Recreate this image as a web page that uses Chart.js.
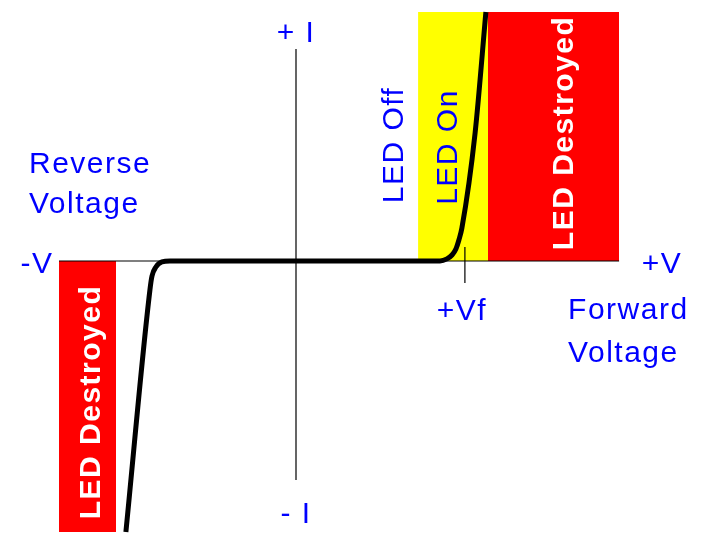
<!DOCTYPE html>
<html>
<head>
<meta charset="utf-8">
<script src="https://cdn.jsdelivr.net/npm/chart.js@4/dist/chart.umd.min.js"></script>
<style>
  html, body { margin: 0; padding: 0; background: #fff; }
  #wrap { width: 711px; height: 541px; }
</style>
</head>
<body>
<div id="wrap"><canvas id="ledChart" width="711" height="541"></canvas></div>
<script>
// axis ranges (voltage / current in arbitrary units)
const xRange = [-9.8667, 13.8333];
const yRange = [-9.3333, 8.7];

// I-V curve of the LED
const curveV = [-5.67, -4.87, -4.8, -4.67, -4.47, -4.2, 4.8, 5.03, 5.2, 5.33, 5.43, 5.53, 5.97, 6.33];
const curveI = [-9.03, -0.97, -0.5, -0.2, -0.03, 0, 0, 0.07, 0.2, 0.4, 0.7, 1.1, 4.27, 8.3];

// axes drawn as lines
const vAxisV = [-7.9, 10.77];
const iAxisI = [7.07, -7.3];
const vfV = 5.63;
const vfTickI = [0.47, -0.73];

// zones [vStart, vEnd, iEdge]
const zoneOn = [4.07, 6.4, 8.3];
const zoneBurnFwd = [6.4, 10.77, 8.3];
const zoneBurnRev = [-7.9, -6.0, -9.03];

// text
const labelTexts = ['+ I', '- I', '-V', '+V', '+Vf'];
const labelAt = [[0, 7.3], [0, -8.73], [-8.63, -0.4], [12.2, -0.4], [5.53, -1.97]];
const noteTexts = ['Reverse', 'Voltage', 'Forward', 'Voltage'];
const noteAt = [[-8.9, 2.93], [-8.9, 1.6], [9.07, -1.93], [9.07, -3.37]];
const zoneTexts = ['LED Off', 'LED On', 'LED Destroyed', 'LED Destroyed'];
const zoneAt = [[3.57, 3.87], [5.37, 3.8], [9.23, 4.27], [-6.53, -4.7]];
const zoneBold = [false, false, true, true];

const BLUE = '#0000ff';
const FONT = '"Liberation Sans", Arial, sans-serif';

const pts = (xs, ys) => xs.map((x, i) => ({ x, y: ys[i] }));
const zoneData = z => [{ x: z[0], y: z[2] }, { x: z[1], y: z[2] }];

const textPlugin = {
  id: 'textPlugin',
  afterDatasetsDraw(chart) {
    const { ctx, scales: { x, y } } = chart;
    ctx.save();
    ctx.fillStyle = BLUE;
    ctx.font = '30px ' + FONT;
    ctx.letterSpacing = '1.5px';
    ctx.textBaseline = 'alphabetic';

    ctx.textAlign = 'center';
    labelTexts.forEach((t, i) => {
      ctx.fillText(t, x.getPixelForValue(labelAt[i][0]), y.getPixelForValue(labelAt[i][1]));
    });

    ctx.textAlign = 'left';
    noteTexts.forEach((t, i) => {
      ctx.fillText(t, x.getPixelForValue(noteAt[i][0]), y.getPixelForValue(noteAt[i][1]));
    });

    // rotated zone captions
    ctx.textAlign = 'center';
    zoneTexts.forEach((t, i) => {
      ctx.save();
      ctx.translate(x.getPixelForValue(zoneAt[i][0]), y.getPixelForValue(zoneAt[i][1]));
      ctx.rotate(-Math.PI / 2);
      ctx.font = (zoneBold[i] ? 'bold ' : '') + '30px ' + FONT;
      ctx.fillStyle = zoneBold[i] ? '#ffffff' : BLUE;
      ctx.fillText(t, 0, 0);
      ctx.restore();
    });
    ctx.restore();
  }
};

const lineStyle = { pointRadius: 0, tension: 0, fill: false };

new Chart(document.getElementById('ledChart'), {
  type: 'line',
  data: {
    datasets: [
      { ...lineStyle, data: pts(curveV, curveI), borderColor: '#000', borderWidth: 5,
        cubicInterpolationMode: 'monotone' },
      { ...lineStyle, data: pts(vAxisV, [0, 0]), borderColor: '#000', borderWidth: 1.2 },
      { ...lineStyle, data: pts([0, 0], iAxisI), borderColor: '#000', borderWidth: 1.2 },
      { ...lineStyle, data: pts([vfV, vfV], vfTickI), borderColor: '#000', borderWidth: 1.2 },
      { ...lineStyle, data: zoneData(zoneOn), borderWidth: 0, fill: { value: 0 }, backgroundColor: '#ffff00' },
      { ...lineStyle, data: zoneData(zoneBurnFwd), borderWidth: 0, fill: { value: 0 }, backgroundColor: '#ff0000' },
      { ...lineStyle, data: zoneData(zoneBurnRev), borderWidth: 0, fill: { value: 0 }, backgroundColor: '#ff0000' }
    ]
  },
  options: {
    responsive: false,
    animation: false,
    devicePixelRatio: 1,
    layout: { padding: 0 },
    plugins: { legend: { display: false }, tooltip: { enabled: false } },
    scales: {
      x: { type: 'linear', min: xRange[0], max: xRange[1], display: false },
      y: { type: 'linear', min: yRange[0], max: yRange[1], display: false }
    }
  },
  plugins: [textPlugin]
});
</script>
</body>
</html>
